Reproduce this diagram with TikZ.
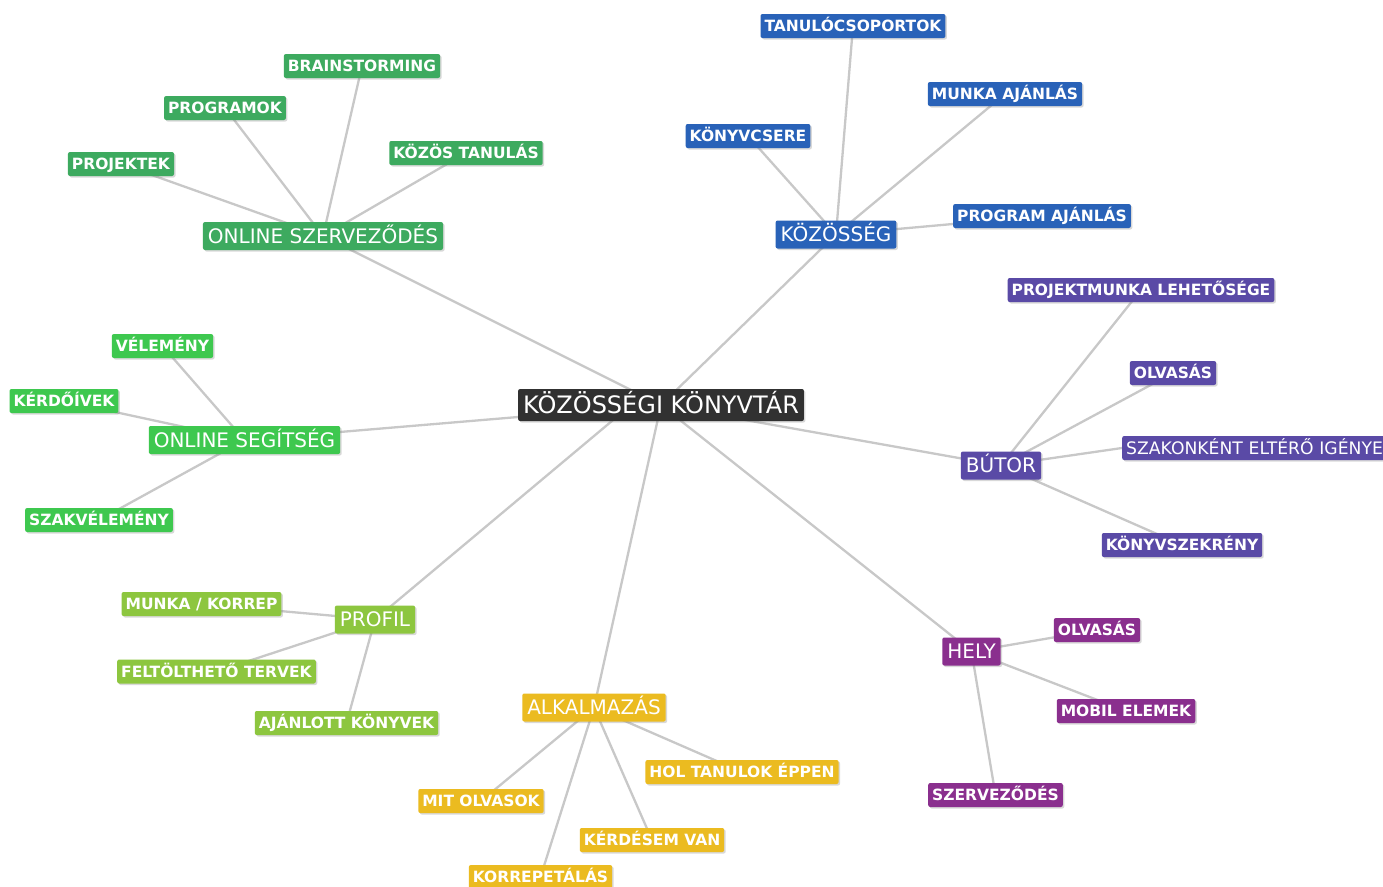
\documentclass[tikz,border=0pt]{standalone}
\usepackage{fontspec}
\setmainfont{DejaVu Sans}
\usetikzlibrary{shadows,backgrounds}
\definecolor{cctr}{HTML}{313131}
\definecolor{cos}{HTML}{3DAA5F}
\definecolor{ckoz}{HTML}{2962B8}
\definecolor{cbut}{HTML}{5A4AA6}
\definecolor{chely}{HTML}{8A2F8E}
\definecolor{calk}{HTML}{EBBB20}
\definecolor{cprof}{HTML}{8DC63F}
\definecolor{cseg}{HTML}{3EC84F}
\definecolor{cline}{HTML}{C8C8C8}
\tikzset{
  box/.style={text=white, rounded corners=2pt, inner ysep=0pt,
    drop shadow={opacity=0.3, shadow xshift=1.5pt, shadow yshift=-1.5pt}},
  leaf/.style={box, fill=#1, font=\bfseries\fontsize{15.5}{16}\selectfont,
    text height=11.3pt, text depth=0pt, minimum height=24pt, inner xsep=4pt},
  branch/.style={box, fill=#1, font=\fontsize{20}{22}\selectfont,
    text height=14.6pt, text depth=0pt, minimum height=28pt, inner xsep=5pt},
  root/.style={box, fill=cctr, font=\fontsize{24}{26}\selectfont,
    text height=17.5pt, text depth=0pt, minimum height=32pt, inner xsep=5pt},
  link/.style={draw=cline, line width=2.3pt}
}
\begin{document}
\begin{tikzpicture}[x=1pt,y=-1pt]
\useasboundingbox (0,0) rectangle (1383,886);
\clip (0,0) rectangle (1383,886);
% nodes
\node[root] (ctr) at (661,405) {KÖZÖSSÉGI KÖNYVTÁR};
% online szervezodes
\node[branch=cos] (os) at (323,236) {ONLINE SZERVEZŐDÉS};
\node[leaf=cos] (brain) at (362,66) {BRAINSTORMING};
\node[leaf=cos] (prog) at (225,108) {PROGRAMOK};
\node[leaf=cos] (proj) at (121,164) {PROJEKTEK};
\node[leaf=cos] (kozt) at (466,153) {KÖZÖS TANULÁS};
% kozosseg
\node[branch=ckoz] (koz) at (836,234.5) {KÖZÖSSÉG};
\node[leaf=ckoz] (tan) at (853,26) {TANULÓCSOPORTOK};
\node[leaf=ckoz] (munka) at (1005,94) {MUNKA AJÁNLÁS};
\node[leaf=ckoz] (kcs) at (748,136) {KÖNYVCSERE};
\node[leaf=ckoz] (progaj) at (1042,216) {PROGRAM AJÁNLÁS};
% butor
\node[branch=cbut] (but) at (1001,465.5) {BÚTOR};
\node[leaf=cbut] (projm) at (1141,290) {PROJEKTMUNKA LEHETŐSÉGE};
\node[leaf=cbut] (olv1) at (1173,373) {OLVASÁS};
\node[leaf=cbut, font=\fontsize{17.2}{18}\selectfont, text height=12.5pt, text width=290pt, align=left, anchor=west] (szak) at (1122,448) {SZAKONKÉNT ELTÉRŐ IGÉNYE};
\node[leaf=cbut] (ksz) at (1182,545) {KÖNYVSZEKRÉNY};
% hely
\node[branch=chely] (hely) at (971.5,651.5) {HELY};
\node[leaf=chely] (olv2) at (1097,630) {OLVASÁS};
\node[leaf=chely] (mobil) at (1126,711) {MOBIL ELEMEK};
\node[leaf=chely] (szerv) at (995.5,795) {SZERVEZŐDÉS};
% alkalmazas
\node[branch=calk] (alk) at (594,707.5) {ALKALMAZÁS};
\node[leaf=calk] (hol) at (742,772) {HOL TANULOK ÉPPEN};
\node[leaf=calk] (mit) at (481,801) {MIT OLVASOK};
\node[leaf=calk] (kerd) at (652,840) {KÉRDÉSEM VAN};
\node[leaf=calk] (korr) at (540.5,877) {KORREPETÁLÁS};
% profil
\node[branch=cprof] (prof) at (375,619.5) {PROFIL};
\node[leaf=cprof] (mk) at (201.5,604) {MUNKA / KORREP};
\node[leaf=cprof] (felt) at (216.5,671.5) {FELTÖLTHETŐ TERVEK};
\node[leaf=cprof] (ajk) at (346.5,723) {AJÁNLOTT KÖNYVEK};
% online segitseg
\node[branch=cseg] (oseg) at (244.5,440) {ONLINE SEGÍTSÉG};
\node[leaf=cseg] (vel) at (162.5,346) {VÉLEMÉNY};
\node[leaf=cseg] (kiv) at (64,401) {KÉRDŐÍVEK};
\node[leaf=cseg] (szv) at (99,520) {SZAKVÉLEMÉNY};
% connectors behind nodes
\begin{scope}[on background layer]
\fill[white] (0,0) rectangle (1383,886);
\foreach \a/\b in {ctr/os, ctr/koz, ctr/but, ctr/hely, ctr/alk, ctr/oseg,
  os/brain, os/prog, os/proj, os/kozt,
  koz/tan, koz/munka, koz/kcs, koz/progaj,
  but/projm, but/olv1, but/ksz,
  hely/olv2, hely/mobil, hely/szerv,
  alk/hol, alk/mit, alk/kerd, alk/korr,
  prof/mk, prof/felt, prof/ajk,
  oseg/vel, oseg/kiv, oseg/szv}
  \draw[link] (\a.center) -- (\b.center);
\draw[link] ([xshift=-30pt]ctr.center) -- (prof.center);
\draw[link] (but.center) -- (szak.west);
\end{scope}
\end{tikzpicture}
\end{document}
